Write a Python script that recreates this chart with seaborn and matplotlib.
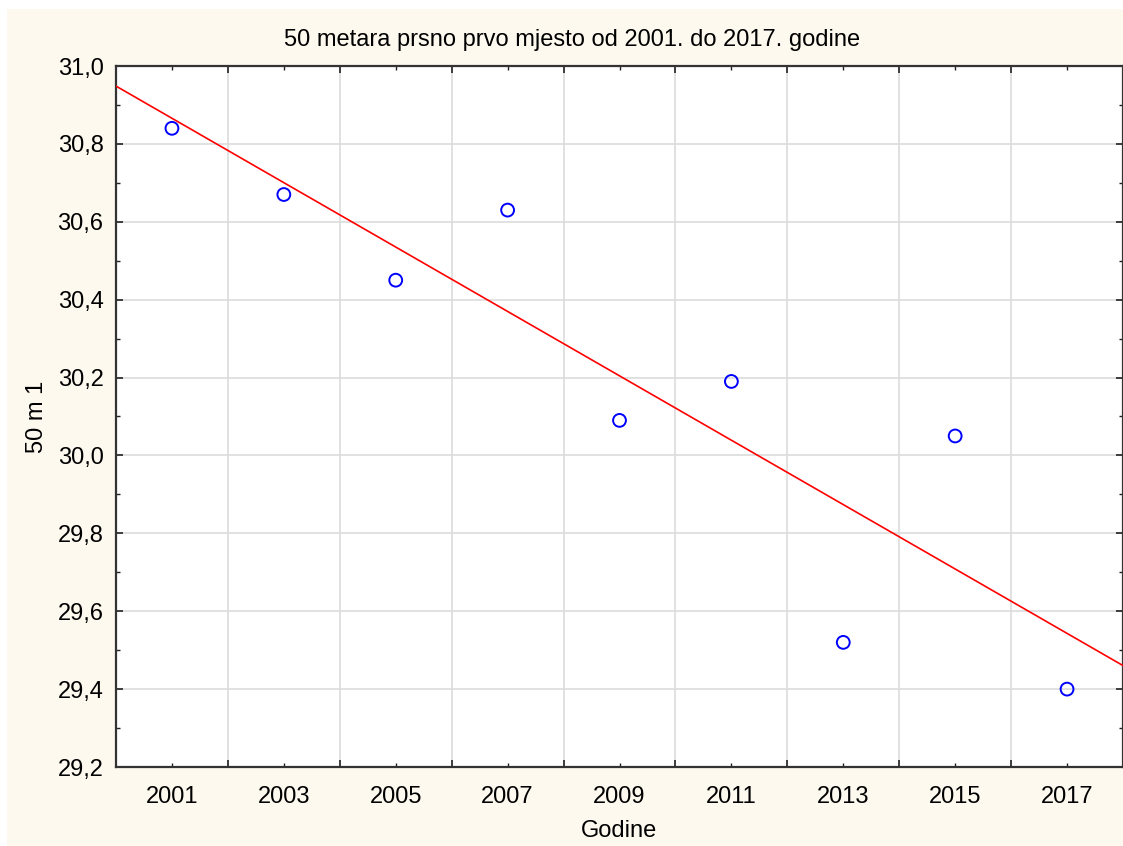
import matplotlib
matplotlib.use("Agg")
import matplotlib.pyplot as plt
import matplotlib.ticker as mticker
from matplotlib.patches import Rectangle
import pandas as pd
import seaborn as sns

# data
years = [2001, 2003, 2005, 2007, 2009, 2011, 2013, 2015, 2017]
times = [30.84, 30.67, 30.45, 30.63, 30.09, 30.19, 29.52, 30.05, 29.40]
y_ticks = [29.2, 29.4, 29.6, 29.8, 30.0, 30.2, 30.4, 30.6, 30.8, 31.0]

df = pd.DataFrame({"Godine": years, "50 m 1": times})

sns.set_style("white")
plt.rcParams["font.family"] = ["Liberation Sans", "DejaVu Sans"]
plt.rcParams["text.color"] = "black"
plt.rcParams["axes.labelcolor"] = "black"
plt.rcParams["xtick.color"] = "black"
plt.rcParams["ytick.color"] = "black"

W, H = 1123, 846
fig = plt.figure(figsize=(W / 100, H / 100), dpi=100, facecolor="white")
# cream panel behind the chart
fig.patches.append(Rectangle((7 / W, 0), 1 - 7 / W, 1 - 9 / H, transform=fig.transFigure,
                             facecolor="#fef9ef", edgecolor="none", zorder=-10))

ax = fig.add_axes([116 / W, 1 - 767 / H, (1123 - 116) / W, (767 - 66) / H])
ax.set_facecolor("white")
ax.set_xlim(2000, 2018)
ax.set_ylim(29.2, 31.0)

sns.regplot(data=df, x="Godine", y="50 m 1", ax=ax, scatter=False, ci=None,
            truncate=False, line_kws={"color": "red", "lw": 1.2, "zorder": 3})
sns.scatterplot(data=df, x="Godine", y="50 m 1", ax=ax, marker="o", s=85,
                facecolor="none", edgecolor="blue", linewidth=1.4, zorder=4)
ax.set_xlim(2000, 2018)
ax.set_ylim(29.2, 31.0)

# gridlines between the year labels, labels on odd years
ax.xaxis.set_major_locator(mticker.FixedLocator(list(range(2000, 2019, 2))))
ax.xaxis.set_major_formatter(mticker.NullFormatter())
ax.xaxis.set_minor_locator(mticker.FixedLocator(years))
ax.xaxis.set_minor_formatter(mticker.FixedFormatter([str(y) for y in years]))
ax.yaxis.set_major_locator(mticker.FixedLocator(y_ticks))
ax.yaxis.set_major_formatter(mticker.FuncFormatter(lambda v, p: f"{v:.1f}".replace(".", ",")))
ax.yaxis.set_minor_locator(mticker.MultipleLocator(0.1))

ax.tick_params(which="both", direction="in", top=True, right=True, bottom=True, left=True,
               color="#222222", labelcolor="black", labelsize=17)
ax.tick_params(which="major", length=5, width=1.2, pad=8)
ax.tick_params(which="minor", length=3, width=1.0, pad=14)
ax.tick_params(axis="y", which="major", pad=9)

ax.grid(which="major", color="#dcdcdc", lw=1.2)
ax.set_axisbelow(True)
for s in ax.spines.values():
    s.set_color("#333333")
    s.set_linewidth(1.6)

fig.text(572 / W, 1 - 40 / H, "50 metara prsno prvo mjesto od 2001. do 2017. godine",
         fontsize=17, ha="center", va="center", color="black")
ax.set_xlabel("Godine", fontsize=17, labelpad=8)
ax.set_ylabel("50 m 1", fontsize=17, labelpad=7)

fig.savefig("out.png", dpi=100, facecolor=fig.get_facecolor())
